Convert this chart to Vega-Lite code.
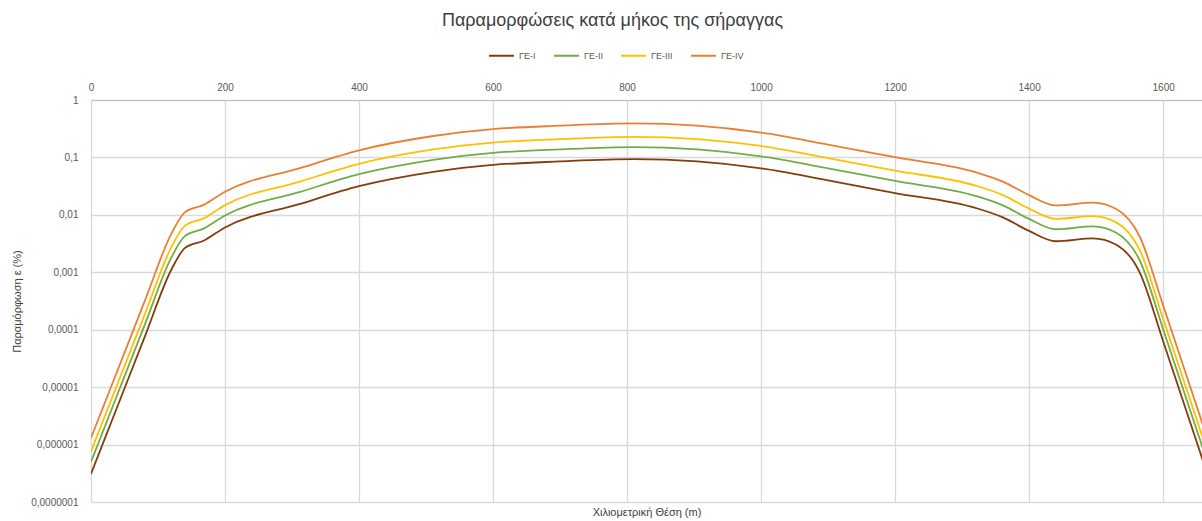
{
  "$schema": "https://vega.github.io/schema/vega-lite/v6.json",
  "width": 1111,
  "height": 402,
  "autosize": {"type": "none"},
  "padding": {"left": 91, "top": 100, "right": 0, "bottom": 19},
  "background": "white",
  "title": {
    "text": "Παραμορφώσεις κατά μήκος της σήραγγας",
    "font": "Liberation Sans",
    "fontSize": 18,
    "fontWeight": "normal",
    "color": "#404040",
    "anchor": "middle",
    "dx": -34,
    "offset": 12
  },
  "data": {
    "values": [
      {"x": 0, "series": "ΓΕ-I", "e": 3.09e-7},
      {"x": 40, "series": "ΓΕ-I", "e": 4.79e-6},
      {"x": 80, "series": "ΓΕ-I", "e": 7.41e-5},
      {"x": 120, "series": "ΓΕ-I", "e": 0.00112},
      {"x": 140, "series": "ΓΕ-I", "e": 0.00263},
      {"x": 168, "series": "ΓΕ-I", "e": 0.00355},
      {"x": 200, "series": "ΓΕ-I", "e": 0.00603},
      {"x": 312, "series": "ΓΕ-I", "e": 0.0155},
      {"x": 400, "series": "ΓΕ-I", "e": 0.0316},
      {"x": 511, "series": "ΓΕ-I", "e": 0.0562},
      {"x": 600, "series": "ΓΕ-I", "e": 0.0741},
      {"x": 700, "series": "ΓΕ-I", "e": 0.0851},
      {"x": 810, "series": "ΓΕ-I", "e": 0.0933},
      {"x": 1000, "series": "ΓΕ-I", "e": 0.0646},
      {"x": 1100, "series": "ΓΕ-I", "e": 0.0398},
      {"x": 1200, "series": "ΓΕ-I", "e": 0.024},
      {"x": 1320, "series": "ΓΕ-I", "e": 0.0132},
      {"x": 1360, "series": "ΓΕ-I", "e": 0.00912},
      {"x": 1400, "series": "ΓΕ-I", "e": 0.00525},
      {"x": 1440, "series": "ΓΕ-I", "e": 0.00347},
      {"x": 1495, "series": "ΓΕ-I", "e": 0.00389},
      {"x": 1530, "series": "ΓΕ-I", "e": 0.00302},
      {"x": 1565, "series": "ΓΕ-I", "e": 0.001},
      {"x": 1600, "series": "ΓΕ-I", "e": 6.31e-5},
      {"x": 1630, "series": "ΓΕ-I", "e": 5.62e-6},
      {"x": 1660, "series": "ΓΕ-I", "e": 5.01e-7},

      {"x": 0, "series": "ΓΕ-II", "e": 5.0e-7},
      {"x": 40, "series": "ΓΕ-II", "e": 7.76e-6},
      {"x": 80, "series": "ΓΕ-II", "e": 1.2e-4},
      {"x": 120, "series": "ΓΕ-II", "e": 0.00182},
      {"x": 140, "series": "ΓΕ-II", "e": 0.00426},
      {"x": 168, "series": "ΓΕ-II", "e": 0.00575},
      {"x": 200, "series": "ΓΕ-II", "e": 0.00977},
      {"x": 312, "series": "ΓΕ-II", "e": 0.0251},
      {"x": 400, "series": "ΓΕ-II", "e": 0.0512},
      {"x": 511, "series": "ΓΕ-II", "e": 0.091},
      {"x": 600, "series": "ΓΕ-II", "e": 0.12},
      {"x": 700, "series": "ΓΕ-II", "e": 0.1379},
      {"x": 810, "series": "ΓΕ-II", "e": 0.1511},
      {"x": 1000, "series": "ΓΕ-II", "e": 0.1047},
      {"x": 1100, "series": "ΓΕ-II", "e": 0.0645},
      {"x": 1200, "series": "ΓΕ-II", "e": 0.0389},
      {"x": 1320, "series": "ΓΕ-II", "e": 0.0214},
      {"x": 1360, "series": "ΓΕ-II", "e": 0.01477},
      {"x": 1400, "series": "ΓΕ-II", "e": 0.0085},
      {"x": 1440, "series": "ΓΕ-II", "e": 0.00562},
      {"x": 1495, "series": "ΓΕ-II", "e": 0.0063},
      {"x": 1530, "series": "ΓΕ-II", "e": 0.00489},
      {"x": 1565, "series": "ΓΕ-II", "e": 0.00162},
      {"x": 1600, "series": "ΓΕ-II", "e": 1.022e-4},
      {"x": 1630, "series": "ΓΕ-II", "e": 9.1e-6},
      {"x": 1660, "series": "ΓΕ-II", "e": 8.1e-7},

      {"x": 0, "series": "ΓΕ-III", "e": 7.57e-7},
      {"x": 40, "series": "ΓΕ-III", "e": 1.174e-5},
      {"x": 80, "series": "ΓΕ-III", "e": 1.815e-4},
      {"x": 120, "series": "ΓΕ-III", "e": 0.00275},
      {"x": 140, "series": "ΓΕ-III", "e": 0.00644},
      {"x": 168, "series": "ΓΕ-III", "e": 0.0087},
      {"x": 200, "series": "ΓΕ-III", "e": 0.01477},
      {"x": 312, "series": "ΓΕ-III", "e": 0.038},
      {"x": 400, "series": "ΓΕ-III", "e": 0.0774},
      {"x": 511, "series": "ΓΕ-III", "e": 0.1377},
      {"x": 600, "series": "ΓΕ-III", "e": 0.1815},
      {"x": 700, "series": "ΓΕ-III", "e": 0.2085},
      {"x": 810, "series": "ΓΕ-III", "e": 0.2286},
      {"x": 1000, "series": "ΓΕ-III", "e": 0.1583},
      {"x": 1100, "series": "ΓΕ-III", "e": 0.0975},
      {"x": 1200, "series": "ΓΕ-III", "e": 0.0588},
      {"x": 1320, "series": "ΓΕ-III", "e": 0.0323},
      {"x": 1360, "series": "ΓΕ-III", "e": 0.02234},
      {"x": 1400, "series": "ΓΕ-III", "e": 0.01286},
      {"x": 1440, "series": "ΓΕ-III", "e": 0.0085},
      {"x": 1495, "series": "ΓΕ-III", "e": 0.00953},
      {"x": 1530, "series": "ΓΕ-III", "e": 0.0074},
      {"x": 1565, "series": "ΓΕ-III", "e": 0.00245},
      {"x": 1600, "series": "ΓΕ-III", "e": 1.546e-4},
      {"x": 1630, "series": "ΓΕ-III", "e": 1.377e-5},
      {"x": 1660, "series": "ΓΕ-III", "e": 1.23e-6},

      {"x": 0, "series": "ΓΕ-IV", "e": 1.3e-6},
      {"x": 40, "series": "ΓΕ-IV", "e": 2.01e-5},
      {"x": 80, "series": "ΓΕ-IV", "e": 3.11e-4},
      {"x": 120, "series": "ΓΕ-IV", "e": 0.00471},
      {"x": 140, "series": "ΓΕ-IV", "e": 0.01105},
      {"x": 168, "series": "ΓΕ-IV", "e": 0.0149},
      {"x": 200, "series": "ΓΕ-IV", "e": 0.0253},
      {"x": 312, "series": "ΓΕ-IV", "e": 0.0651},
      {"x": 400, "series": "ΓΕ-IV", "e": 0.1327},
      {"x": 511, "series": "ΓΕ-IV", "e": 0.236},
      {"x": 600, "series": "ΓΕ-IV", "e": 0.311},
      {"x": 700, "series": "ΓΕ-IV", "e": 0.357},
      {"x": 810, "series": "ΓΕ-IV", "e": 0.392},
      {"x": 1000, "series": "ΓΕ-IV", "e": 0.2713},
      {"x": 1100, "series": "ΓΕ-IV", "e": 0.167},
      {"x": 1200, "series": "ΓΕ-IV", "e": 0.1008},
      {"x": 1320, "series": "ΓΕ-IV", "e": 0.0554},
      {"x": 1360, "series": "ΓΕ-IV", "e": 0.0383},
      {"x": 1400, "series": "ΓΕ-IV", "e": 0.02205},
      {"x": 1440, "series": "ΓΕ-IV", "e": 0.01457},
      {"x": 1495, "series": "ΓΕ-IV", "e": 0.01634},
      {"x": 1530, "series": "ΓΕ-IV", "e": 0.01268},
      {"x": 1565, "series": "ΓΕ-IV", "e": 0.0042},
      {"x": 1600, "series": "ΓΕ-IV", "e": 2.65e-4},
      {"x": 1630, "series": "ΓΕ-IV", "e": 2.36e-5},
      {"x": 1660, "series": "ΓΕ-IV", "e": 2.1e-6}
    ]
  },
  "mark": {"type": "line", "interpolate": "monotone", "strokeWidth": 1.8, "clip": true},
  "encoding": {
    "x": {
      "field": "x",
      "type": "quantitative",
      "scale": {"domain": [0, 1658], "nice": false, "zero": false},
      "axis": {
        "orient": "top",
        "values": [0, 200, 400, 600, 800, 1000, 1200, 1400, 1600],
        "format": "d",
        "ticks": false,
        "labelFlush": false,
        "labelPadding": 8,
        "labelFont": "Liberation Sans",
        "labelFontSize": 10,
        "labelColor": "#595959",
        "domainColor": "#bfbfbf",
        "gridColor": "#d9d9d9",
        "gridWidth": 1.3,
        "title": "Χιλιομετρική Θέση (m)",
        "titleFont": "Liberation Sans",
        "titleFontSize": 11,
        "titleFontWeight": "normal",
        "titleColor": "#404040",
        "titleY": 412,
        "titleBaseline": "middle"
      }
    },
    "y": {
      "field": "e",
      "type": "quantitative",
      "scale": {"type": "log", "domain": [1e-7, 1], "nice": false},
      "axis": {
        "values": [1e-7, 1e-6, 1e-5, 1e-4, 0.001, 0.01, 0.1, 1],
        "labelExpr": "replace(format(datum.value, '.7~f'), '.', ',')",
        "ticks": false,
        "domain": false,
        "labelPadding": 13,
        "labelFont": "Liberation Sans",
        "labelFontSize": 10,
        "labelColor": "#595959",
        "gridColor": "#d9d9d9",
        "gridWidth": 1.3,
        "title": "Παραμόρφωση ε (%)",
        "titleFont": "Liberation Sans",
        "titleFontSize": 11,
        "titleFontWeight": "normal",
        "titleColor": "#404040",
        "titlePadding": 8
      }
    },
    "color": {
      "field": "series",
      "type": "nominal",
      "scale": {
        "domain": ["ΓΕ-I", "ΓΕ-II", "ΓΕ-III", "ΓΕ-IV"],
        "range": ["#843C0C", "#70AD47", "#FFC000", "#ED7D31"]
      },
      "legend": {
        "orient": "none",
        "direction": "horizontal",
        "legendX": 397,
        "legendY": -58,
        "title": null,
        "symbolType": "stroke",
        "symbolSize": 625,
        "symbolStrokeWidth": 2,
        "labelFont": "Liberation Sans",
        "labelFontSize": 9,
        "labelColor": "#595959",
        "columnPadding": 14,
        "labelOffset": 4
      }
    }
  },
  "config": {"view": {"stroke": null}}
}
